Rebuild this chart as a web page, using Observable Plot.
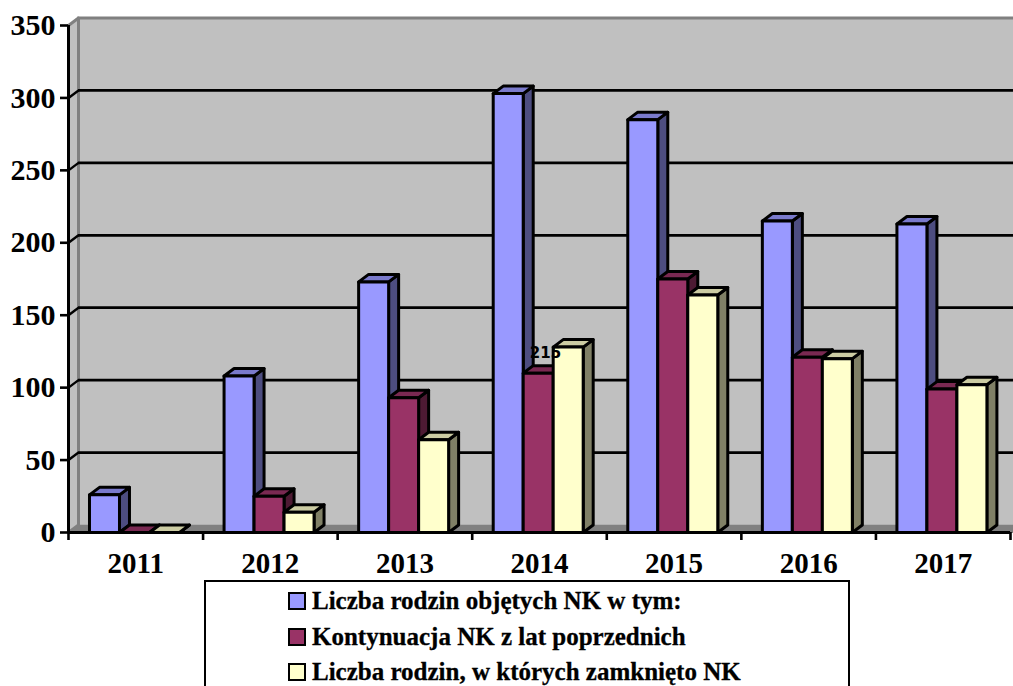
<!DOCTYPE html>
<html>
<head>
<meta charset="utf-8">
<script src="https://cdn.jsdelivr.net/npm/d3@7"></script>
<script src="https://cdn.jsdelivr.net/npm/@observablehq/plot@0.6"></script>
<style>
html,body{margin:0;padding:0;background:#fff;width:1013px;height:686px;overflow:hidden}
svg{display:block}
#legend{box-sizing:border-box;margin:2px 0 0 204px;width:646px;height:130px;border:2.5px solid #000;padding:1px 0 0 82px;
 font:bold 25px "Liberation Serif",serif;color:#000;-webkit-text-stroke:.3px #000}
#legend div{height:35.7px;line-height:35.7px;display:flex;align-items:center;white-space:nowrap}
#legend i{display:inline-block;box-sizing:border-box;width:18px;height:18px;border:2.5px solid #000;margin-right:6px}
</style>
</head>
<body>
<div id="chart"></div>
<div id="legend"></div>
<script>
const years = [2011, 2012, 2013, 2014, 2015, 2016, 2017];
const objete = [26, 108, 173, 303, 285, 215, 213];
const kontynuacja = [0, 25, 93, 110, 175, 121, 99];
const zamkniete = [0, 14, 64, 128, 164, 120, 102];
const seriesNames = ["Liczba rodzin objętych NK w tym:", "Kontynuacja NK z lat poprzednich", "Liczba rodzin, w których zamknięto NK"];
const front = ["#9999FF", "#993366", "#FFFFCC"];
const side = ["#4D4D80", "#4D1A33", "#808066"];
const top3 = ["#7A7ACC", "#7A2952", "#CCCCA3"];
const yTicks = [0, 50, 100, 150, 200, 250, 300, 350];
const gridValues = [50, 100, 150, 200, 250, 300];
const strayLabel = {year: 2014, text: "215"};

// depth of the pseudo-3D projection, in data units
const dX = 10 / 134.6, dY = 7.5 / (507 / 350);
const barStart = 21 / 134.6, barW = 30 / 134.6;

function faces(values, s) {
  const out = [];
  values.forEach((v, i) => {
    const x0 = i + barStart + s * barW, x1 = x0 + barW;
    const poly = (name, color, pts) => pts.concat([pts[0]]).forEach(([x, y]) => out.push({id: `${s}-${i}-${name}`, x, y, color}));
    poly("side", side[s], [[x1, 0], [x1 + dX, dY], [x1 + dX, v + dY], [x1, v]]);
    poly("top", top3[s], [[x0, v], [x1, v], [x1 + dX, v + dY], [x0 + dX, v + dY]]);
    poly("front", front[s], [[x0, 0], [x1, 0], [x1, v], [x0, v]]);
  });
  return out;
}
const polyLine = (data, sw = 3) => Plot.line(data, {x: "x", y: "y", z: "id", fill: "color", stroke: "#000", strokeWidth: sw, strokeLinejoin: "round", curve: "linear"});

const blueFaces = faces(objete, 0);
const maroonFaces = faces(kontynuacja, 1), yellowFaces = faces(zamkniete, 2);

const wallX = 8;
const backWall = [{x1: dX, x2: wallX, y1: dY, y2: 350 + dY}];
const leftWall = [[0, 0], [dX, dY], [dX, 350 + dY], [0, 350]];
const floor = [[0, 0], [wallX, 0], [wallX, dY], [dX, dY]];
const closed = pts => pts.concat([pts[0]]).map(([x, y]) => ({x, y}));
const heavy = {fontFamily: "Liberation Serif", fontWeight: "bold", fill: "#000"};

const chart = Plot.plot({
  width: 1013, height: 578,
  marginLeft: 68, marginRight: 3, marginTop: 25, marginBottom: 46,
  style: {background: "#fff", overflow: "hidden"},
  x: {domain: [0, 7], axis: null},
  y: {domain: [0, 350], axis: null},
  marks: [
    Plot.rect(backWall, {x1: "x1", x2: "x2", y1: "y1", y2: "y2", fill: "#C0C0C0"}),
    Plot.ruleY([350 + dY], {x1: dX - 0.005, x2: wallX, stroke: "#808080", strokeWidth: 3}),
    Plot.line(closed(leftWall), {x: "x", y: "y", fill: "#C0C0C0", stroke: "#808080", strokeWidth: 3}),
    Plot.line(closed(floor), {x: "x", y: "y", fill: "#808080", stroke: "#808080", strokeWidth: 1}),
    Plot.ruleY(gridValues.map(v => v + dY), {x1: dX, x2: wallX, stroke: "#000", strokeWidth: 2.8}),
    Plot.link(gridValues, {x1: 0, x2: dX, y1: d => d, y2: d => d + dY, stroke: "#000", strokeWidth: 2.4}),
    polyLine(blueFaces),
    polyLine(maroonFaces),
    polyLine(yellowFaces),
    Plot.text([strayLabel], {x: d => years.indexOf(d.year) + 0.544, y: 123.5, text: "text", fontFamily: "DejaVu Sans", fontWeight: "bold", fontSize: 15, fill: "#000"}),
    Plot.ruleX([0], {y1: 0, y2: 350, stroke: "#000", strokeWidth: 3}),
    Plot.ruleY([0], {x1: 0, x2: 7, stroke: "#000", strokeWidth: 3}),
    Plot.axisY({ticks: yTicks, tickSize: 8, tickPadding: 5, tickFormat: d => String(d), label: null, stroke: "#000", strokeWidth: 2.6, ...heavy, fontSize: 30}),
    Plot.axisX({ticks: d3.range(0, 8), tickSize: 8, tickFormat: () => "", label: null, stroke: "#000", strokeWidth: 2.6}),
    Plot.axisX({ticks: years.map((y, i) => i + 0.5), tickSize: 0, tickPadding: 20, tickFormat: d => String(years[d - 0.5]), label: null, ...heavy, fontSize: 29})
  ]
});
document.getElementById("chart").append(chart);

const legend = d3.select("#legend");
seriesNames.forEach((name, i) => {
  const row = legend.append("div");
  row.append("i").style("background", front[i]);
  row.append("span").text(name);
});
</script>
</body>
</html>
